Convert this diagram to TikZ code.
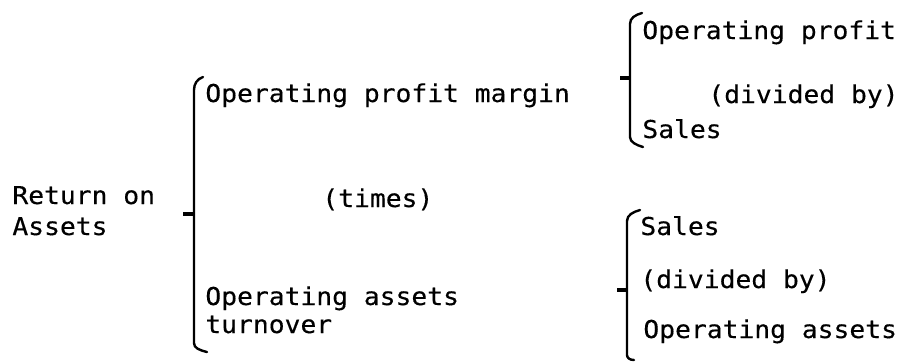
\documentclass[tikz,border=0pt]{standalone}
\usepackage{fontspec}
\usepackage{tikz}
\usetikzlibrary{positioning}
\newfontfamily\typefont[FakeStretch=1.07,FakeBold=0.3]{DejaVu Sans Mono}
\tikzset{
  txt/.style={anchor=base west,inner sep=0pt,font=\typefont\fontsize{12.3pt}{14pt}\selectfont},
  brk/.style={line width=1.2pt,line cap=round,line join=round},
  tick/.style={line width=1.8pt}
}

\begin{document}
\begin{tikzpicture}[x=0.5pt,y=-0.5pt]
  \useasboundingbox (0,0) rectangle (900,361);
  % left side
  \node[txt] (ret1) at (12,204) {Return on};
  \node[txt] (ret2) at (12,235) {Assets};
  \coordinate (rettick) at (183,214);
  \draw[brk] (203,77) .. controls (197,79) and (194,84) .. (194,90) -- (194,343) .. controls (194,348) and (199,350) .. (207,352);
  \draw[tick] (rettick) -- (194,214);
  % middle column
  \node[txt] (opm) at (205,102) {Operating profit margin};
  \node[txt] (times) at (322,207) {(times)};
  \node[txt] (oat1) at (205,305) {Operating assets};
  \node[txt] (oat2) at (205,333) {turnover};
  % margin split
  \coordinate (opmtick) at (620,78);
  \draw[brk] (642,13) .. controls (635,15) and (630,18) .. (630,24) -- (630,137) .. controls (630,142) and (636,145) .. (643,147);
  \draw[tick] (opmtick) -- (630,78);
  \node[txt] (op) at (642,39) {Operating profit};
  \node[txt] (div1) at (708,103) {(divided by)};
  \node[txt] (sal1) at (642,138) {Sales};
  % turnover split
  \coordinate (oattick) at (617,290);
  \draw[brk] (640,210) .. controls (633,212) and (627,215) .. (627,221) -- (627,355) .. controls (627,358) and (630,360) .. (634,360);
  \draw[tick] (oattick) -- (627,290);
  \node[txt] (sal2) at (640,235) {Sales};
  \node[txt] (div2) at (640,288) {(divided by)};
  \node[txt] (oa) at (643,338) {Operating assets};
\end{tikzpicture}
\end{document}
